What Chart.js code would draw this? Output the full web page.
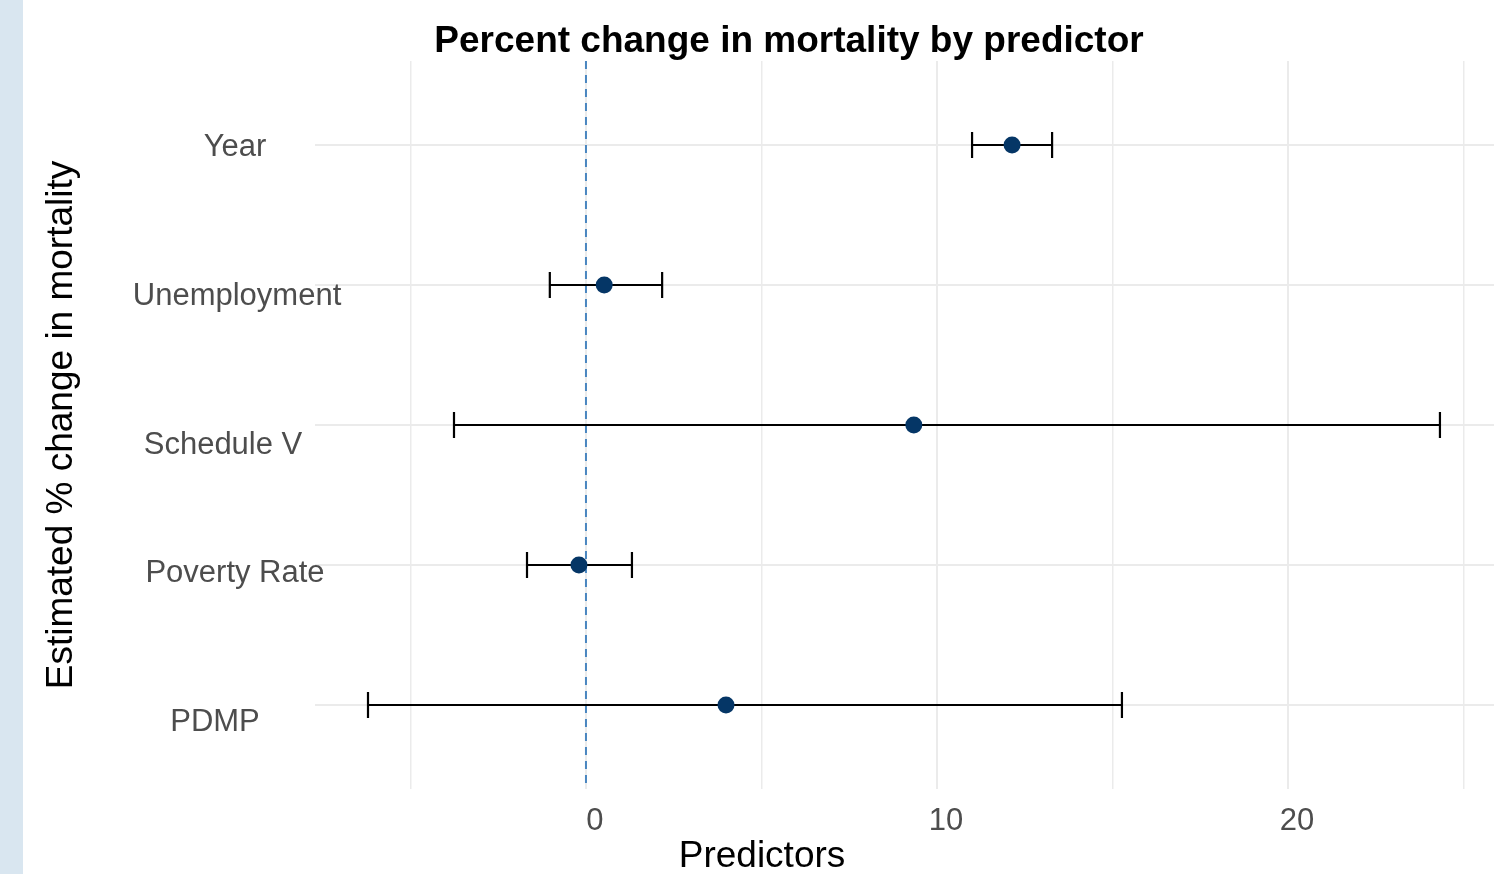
<!DOCTYPE html>
<html>
<head>
<meta charset="utf-8">
<title>Percent change in mortality by predictor</title>
<script src="https://cdn.jsdelivr.net/npm/chart.js@4.4.1/dist/chart.umd.min.js"></script>
<style>
  html, body { margin: 0; padding: 0; background: #fff; }
  #wrap { width: 1509px; height: 874px; }
</style>
</head>
<body>
<div id="wrap"><canvas id="chart" width="1509" height="874"></canvas></div>
<script>
// Values
const predictors = ['Year', 'Unemployment', 'Schedule V', 'Poverty Rate', 'PDMP'];
const estimates = [12.14, 0.52, 9.34, -0.2, 3.99];
const lowerCI = [11.0, -1.03, -3.76, -1.68, -6.21];
const upperCI = [13.28, 2.17, 24.33, 1.31, 15.27];
const xTickLabels = [0, 10, 20];
const xGridValues = [-5, 0, 5, 10, 15, 20, 25];

const FONT = "'Liberation Sans', Arial, Helvetica, sans-serif";

// each predictor sits on its own row (1 = top)
const points = predictors.map((p, i) => ({ x: estimates[i], y: i + 1 }));

// light blue strip on the far left
const sideStrip = {
  id: 'sideStrip',
  beforeDraw(chart) {
    const ctx = chart.ctx;
    ctx.save();
    ctx.fillStyle = '#d9e6f0';
    ctx.fillRect(0, 0, 23, chart.height);
    ctx.restore();
  }
};

// dashed reference line at 0 plus the confidence interval bars
const errorBars = {
  id: 'errorBars',
  beforeDatasetsDraw(chart) {
    const { ctx, chartArea, scales: { x, y } } = chart;
    ctx.save();

    const x0 = x.getPixelForValue(0);
    ctx.strokeStyle = '#4a86c0';
    ctx.lineWidth = 2;
    ctx.setLineDash([8, 6]);
    ctx.beginPath();
    ctx.moveTo(x0, chartArea.top);
    ctx.lineTo(x0, chartArea.bottom);
    ctx.stroke();
    ctx.setLineDash([]);

    ctx.strokeStyle = '#000';
    ctx.lineWidth = 2.2;
    predictors.forEach((p, i) => {
      const yy = y.getPixelForValue(i + 1);
      const xl = x.getPixelForValue(lowerCI[i]);
      const xh = x.getPixelForValue(upperCI[i]);
      ctx.beginPath();
      ctx.moveTo(xl, yy); ctx.lineTo(xh, yy);
      ctx.moveTo(xl, yy - 13); ctx.lineTo(xl, yy + 13);
      ctx.moveTo(xh, yy - 13); ctx.lineTo(xh, yy + 13);
      ctx.stroke();
    });
    ctx.restore();
  }
};

// title, x title and the (oddly placed) predictor labels
const textLayer = {
  id: 'textLayer',
  afterDraw(chart, args, opts) {
    const { ctx, scales: { y } } = chart;
    ctx.save();
    ctx.textAlign = 'center';
    ctx.textBaseline = 'middle';

    ctx.fillStyle = '#000';
    ctx.font = 'bold 37px ' + FONT;
    ctx.fillText('Percent change in mortality by predictor', 789, 42);

    ctx.font = '37px ' + FONT;
    ctx.fillText('Predictors', 762, 857);

    ctx.fillStyle = '#4d4d4d';
    ctx.font = '31px ' + FONT;
    predictors.forEach((p, i) => {
      const [cx, dy] = opts.placement[i];
      ctx.fillText(p, cx, y.getPixelForValue(i + 1) + dy + 2);
    });
    ctx.restore();
  }
};

new Chart(document.getElementById('chart'), {
  type: 'scatter',
  data: {
    datasets: [{
      data: points,
      pointRadius: 8.5,
      pointHoverRadius: 8.5,
      pointBorderWidth: 0,
      backgroundColor: '#053666'
    }]
  },
  plugins: [sideStrip, errorBars, textLayer],
  options: {
    responsive: false,
    animation: false,
    devicePixelRatio: 1,
    layout: { padding: { top: 61, right: 15, left: 0, bottom: 0 } },
    plugins: {
      legend: { display: false },
      tooltip: { enabled: false },
      title: { display: false },
      textLayer: { placement: [[235, 0], [237, 9], [223, 18], [235, 6], [215, 15]] }
    },
    scales: {
      x: {
        type: 'linear',
        min: -7.72,
        max: 25.87,
        border: { display: false },
        grid: {
          color: '#ebebeb',
          lineWidth: (c) => (c.tick && c.tick.value % 10 === 0) ? 2 : 1.5,
          drawTicks: false
        },
        afterBuildTicks: (s) => { s.ticks = xGridValues.map(v => ({ value: v })); },
        afterFit: (s) => { s.height = 85; },
        ticks: {
          padding: 14,
          labelOffset: 9,
          maxRotation: 0,
          autoSkip: false,
          color: '#4d4d4d',
          font: { family: FONT, size: 31 },
          callback: (v) => xTickLabels.includes(v) ? String(v) : ''
        }
      },
      y: {
        type: 'linear',
        reverse: true,
        min: 0.4,
        max: 5.6,
        border: { display: false },
        grid: { color: '#ebebeb', lineWidth: 2, drawTicks: false },
        afterBuildTicks: (s) => { s.ticks = predictors.map((p, i) => ({ value: i + 1 })); },
        afterFit: (s) => { s.width = 315; },
        ticks: { display: false },
        title: {
          display: true,
          text: 'Estimated % change in mortality',
          color: '#000',
          font: { family: FONT, size: 37 },
          padding: { top: 40, bottom: 0 }
        }
      }
    }
  }
});
</script>
</body>
</html>
